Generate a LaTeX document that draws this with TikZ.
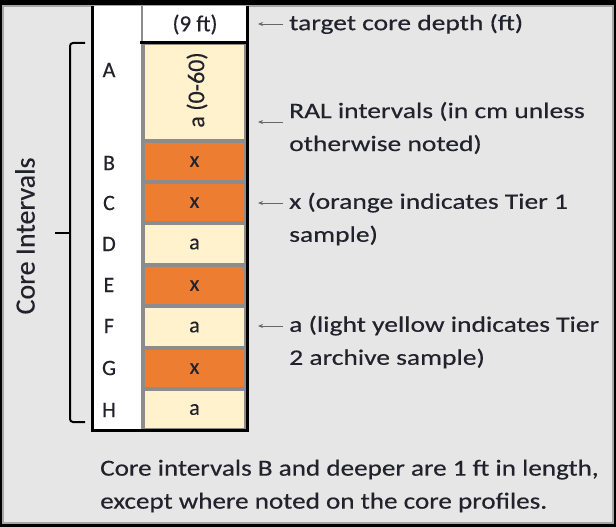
\documentclass[tikz,border=0pt]{standalone}
\usepackage{fontspec}
\setmainfont{Carlito}[FakeBold=0.35]
\usepackage{xcolor}
\usepackage{tikz}
\usetikzlibrary{arrows.meta}
\definecolor{tier_orange}{HTML}{ED7D31}
\definecolor{tier_yellow}{HTML}{FFF2CC}
\definecolor{panel_gray}{HTML}{E6E6E6}
\definecolor{sep_gray}{HTML}{8C8C8C}
\definecolor{ink}{HTML}{22222C}
\tikzset{
    tnode/.style = {inner sep=0pt, text=ink, font=\fontsize{22}{33}\selectfont},
    note/.style = {tnode, anchor=west, align=left, xscale=1.25},
    foot/.style = {tnode, anchor=west, align=left, xscale=1.18, font=\fontsize{23}{33}\selectfont},
    letter/.style = {tnode, font=\fontsize{22}{26}\selectfont},
    cell/.style = {tnode, rectangle, draw=sep_gray, line width=3.5pt, minimum width=103pt, minimum height=41.3pt, font=\fontsize{22}{26}\selectfont},
    x_cell/.style = {cell, fill=tier_orange},
    a_cell/.style = {cell, fill=tier_yellow},
    frame/.style = {draw=black, line width=3pt},
    pointer/.style = {-{Stealth[length=5pt,width=4pt]}, draw=black!60, line width=0.9pt}
}
\begin{document}
\begin{tikzpicture}[x=1pt, y=-1pt]
    \useasboundingbox (0,0) rectangle (616,527);
    % panel
    \fill[black] (0,0) rectangle (616,527);
    \filldraw[fill=panel_gray, draw=gray!70, line width=1.5pt] (3,6) rectangle (613,523);
    \fill[white] (92,6) rectangle (247,430);

    % core column
    \node [tnode, font=\fontsize{23}{27}\selectfont] (depth) at (195,24.5) {(9 ft)};
    \node [a_cell, minimum height=98pt] (A) at (194.5,92) {};
    \node [tnode, rotate=90, font=\fontsize{24}{28}\selectfont] (A_text) at (197,90) {a (0-60)};
    \node [x_cell] (B) at (194.5,161.5) {x};
    \node [x_cell] (C) at (194.5,202.5) {x};
    \node [a_cell] (D) at (194.5,244) {a};
    \node [x_cell] (E) at (194.5,285.5) {x};
    \node [a_cell] (F) at (194.5,327) {a};
    \node [x_cell] (G) at (194.5,368.5) {x};
    \node [a_cell] (H) at (194.5,409.5) {a};
    \draw[sep_gray, line width=2pt] (142,6) -- (142,43);

    % frame
    \draw[frame] (92,6) -- (92,431.5);
    \draw[frame] (247.5,6) -- (247.5,431.5);
    \draw[frame] (90.5,430) -- (249,430);
    \draw[frame] (140,43) -- (249,43);

    % interval letters
    \node [letter] (lA) at (109,70) {A};
    \node [letter] (lB) at (109,163) {B};
    \node [letter] (lC) at (109,203) {C};
    \node [letter] (lD) at (109,244) {D};
    \node [letter] (lE) at (109,285) {E};
    \node [letter] (lF) at (109,326) {F};
    \node [letter] (lG) at (109,368) {G};
    \node [letter] (lH) at (109,410) {H};

    % bracket
    \coordinate (br_top) at (85,43);
    \coordinate (br_mid) at (55,233);
    \coordinate (br_bot) at (85,422);
    \draw[line width=2pt, rounded corners=3pt] (br_top) -- (70,43) -- (70,422) -- (br_bot);
    \draw[line width=2pt] (br_mid) -- (70,233);
    \node [tnode, rotate=90, font=\fontsize{28}{32}\selectfont] (core) at (25,236) {Core Intervals};

    % notes
    \node [note] (n_depth) at (289,24) {target core depth (ft)};
    \node [note] (n_ral) at (289,128) {RAL intervals (in cm unless\\otherwise noted)};
    \node [note] (n_x) at (289,219) {x (orange indicates Tier 1\\sample)};
    \node [note] (n_a) at (289,342) {a (light yellow indicates Tier\\2 archive sample)};
    \node [foot] (n_foot) at (100,486) {Core intervals B and deeper are 1 ft in length,\\except where noted on the core profiles.};

    \coordinate (t_depth) at (258,24);
    \coordinate (t_ral) at (258,122);
    \coordinate (t_x) at (258,203);
    \coordinate (t_a) at (258,326);
    \draw[pointer] ([xshift=-6pt]n_depth.west) -- (t_depth);
    \draw[pointer] ([xshift=-6pt]n_ral.west |- t_ral) -- (t_ral);
    \draw[pointer] ([xshift=-6pt]n_x.west |- t_x) -- (t_x);
    \draw[pointer] ([xshift=-6pt]n_a.west |- t_a) -- (t_a);
\end{tikzpicture}
\end{document}
